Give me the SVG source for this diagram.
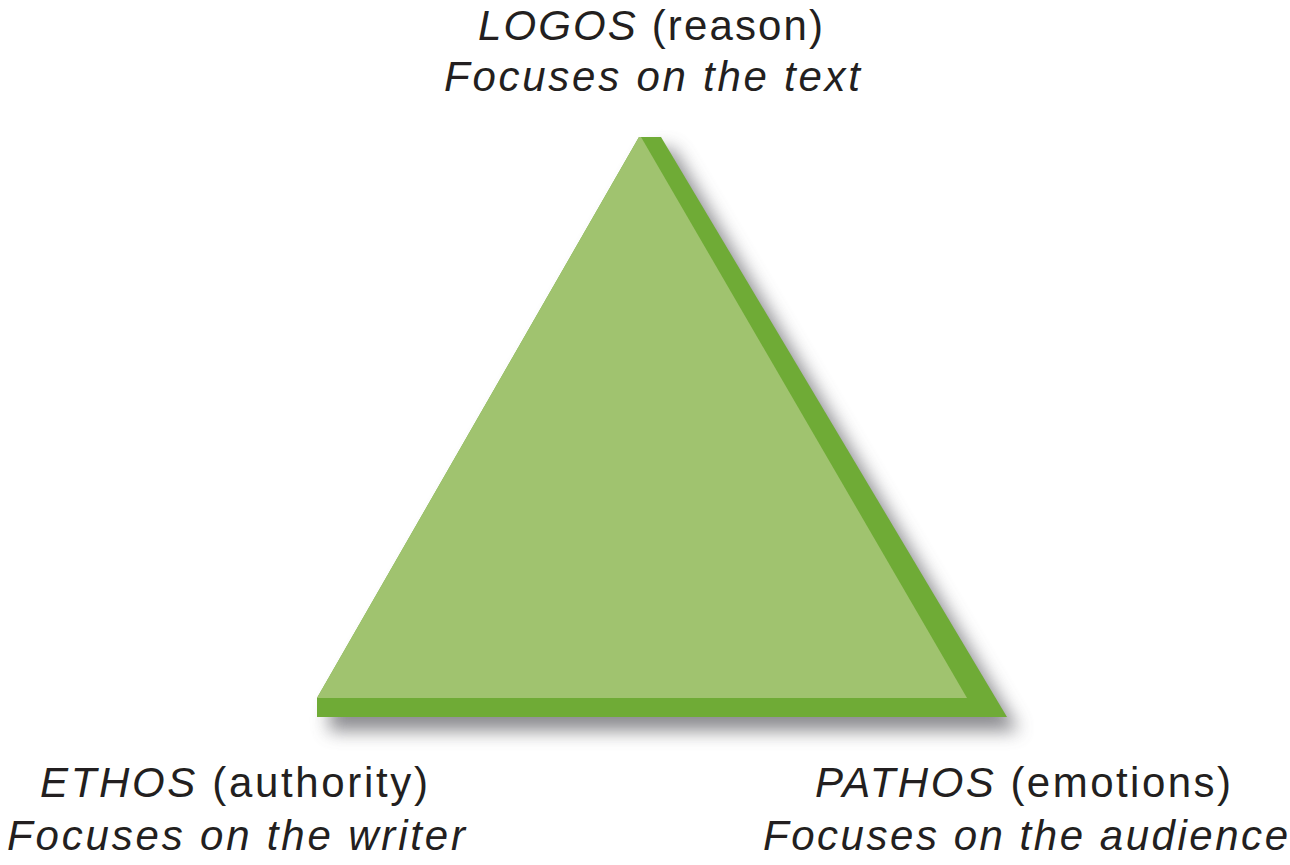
<svg xmlns="http://www.w3.org/2000/svg" width="1290" height="865" viewBox="0 0 1290 865">
<defs>
<filter id="shadow" x="-10%" y="-10%" width="130%" height="130%">
<feGaussianBlur stdDeviation="9"/>
</filter>
</defs>
<style>
.lbl{font-family:"Liberation Sans",Arial,sans-serif;font-size:42px;fill:#231f20}
.it{font-style:italic}
.rg{font-style:normal}
</style>
<rect width="1290" height="865" fill="#ffffff"/>
<g id="triangle">
<polygon points="651,149 673,149 1019,731 329,731 329,712" fill="#66666c" opacity="0.75" filter="url(#shadow)"/>
<polygon points="639,137 661,137 1007,717 317,717 317,698" fill="#6fab36"/>
<polygon points="639,137 641,137 967,698 317,698" fill="#a0c36f"/>
</g>
<g id="logos">
<text class="lbl" x="478" y="40" textLength="345" lengthAdjust="spacing"><tspan class="it">LOGOS</tspan><tspan class="rg"> (reason)</tspan></text>
<text class="lbl it" x="444" y="91" textLength="416" lengthAdjust="spacing">Focuses on the text</text>
</g>
<g id="ethos">
<text class="lbl" x="40" y="797" textLength="388" lengthAdjust="spacing"><tspan class="it">ETHOS</tspan><tspan class="rg"> (authority)</tspan></text>
<text class="lbl it" x="7" y="850" textLength="458" lengthAdjust="spacing">Focuses on the writer</text>
</g>
<g id="pathos">
<text class="lbl" x="815" y="797" textLength="416" lengthAdjust="spacing"><tspan class="it">PATHOS</tspan><tspan class="rg"> (emotions)</tspan></text>
<text class="lbl it" x="763" y="850" textLength="525" lengthAdjust="spacing">Focuses on the audience</text>
</g>
<g id="connectors"></g>
</svg>
